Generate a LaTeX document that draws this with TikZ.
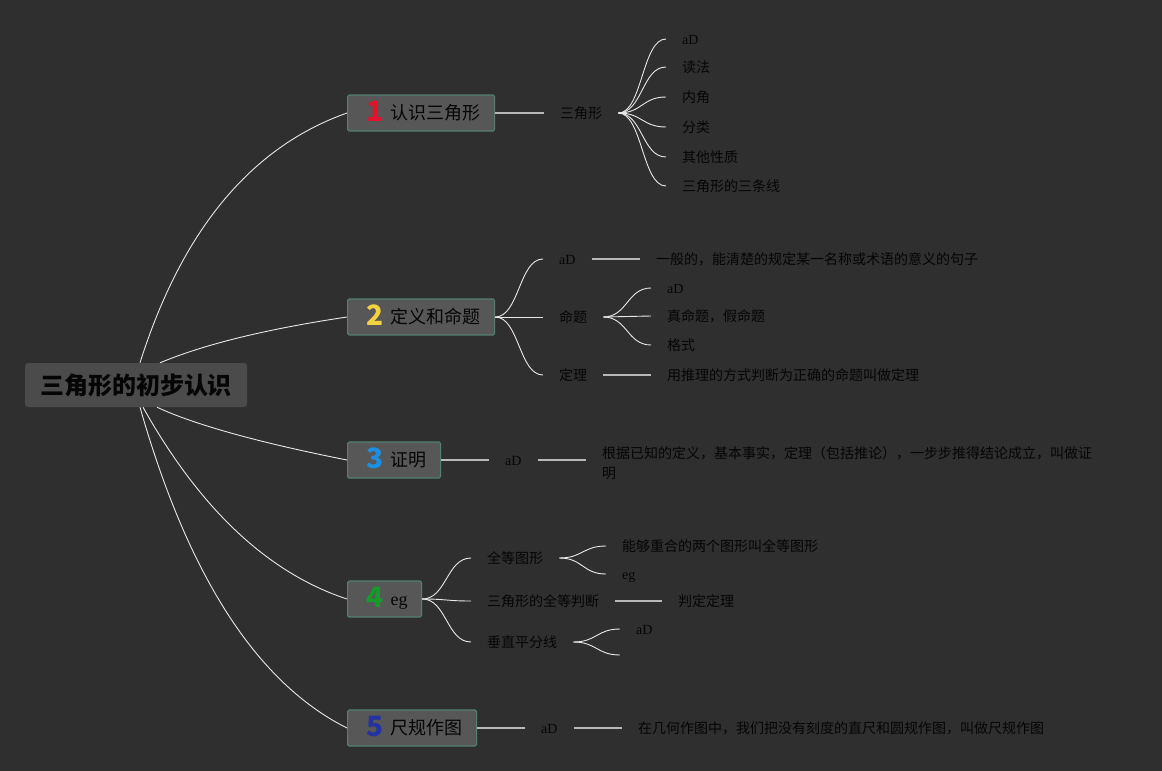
\documentclass[tikz,border=0pt]{standalone}
\usepackage{fontspec}
\setmainfont{Noto Sans CJK SC}
\newfontfamily\latinserif{Liberation Serif}
\usetikzlibrary{calc}
\definecolor{bgc}{HTML}{2F2F2F}
\definecolor{boxfill}{HTML}{575757}
\definecolor{boxline}{HTML}{55806F}
\definecolor{rootfill}{HTML}{4B4B4B}
\definecolor{inkc}{HTML}{050505}
\definecolor{curvec}{HTML}{E8E8E8}
\definecolor{barc}{HTML}{B8B8B8}
\definecolor{dA}{HTML}{E3132C}
\definecolor{dB}{HTML}{F4D23F}
\definecolor{dC}{HTML}{1E8FE0}
\definecolor{dD}{HTML}{169A2A}
\definecolor{dE}{HTML}{2433A0}
\newcommand\topicnum[2]{\hspace*{19pt}\makebox[17pt]{\raisebox{-2pt}{\fontsize{28}{28}\selectfont\bfseries\color{#1}#2}}\hspace*{7pt}}
\begin{document}
\begin{tikzpicture}[x=1pt,y=-1pt,
 rootbox/.style={fill=rootfill, rounded corners=3pt, minimum width=222pt, minimum height=44pt, inner sep=0pt, font=\fontsize{24}{28}\selectfont\bfseries, text=inkc},
 topic/.style={anchor=west, fill=boxfill, draw=boxline, line width=1.2pt, rounded corners=1.5pt, minimum height=36pt, inner xsep=0pt, inner ysep=0pt, text height=15.8pt, text depth=2.2pt, font=\fontsize{18}{22}\selectfont, text=inkc},
 leaf/.style={anchor=west, inner xsep=16pt, inner ysep=0pt, text height=12.3pt, text depth=1.7pt, font=\fontsize{14}{20}\selectfont, text=inkc},
 leafpar/.style={anchor=base west, inner xsep=16pt, inner ysep=0pt, font=\fontsize{14}{20}\selectfont, text=inkc, text width=490pt, align=left},
 curve/.style={draw=curvec, line width=0.9pt},
 bar/.style={draw=barc, line width=1.4pt},
 fan/.style={to path={.. controls ($(\tikztostart)!0.5!(\tikztotarget |- \tikztostart)$) and ($(\tikztotarget)!0.5!(\tikztostart |- \tikztotarget)$) .. (\tikztotarget)}},
]
\fill[bgc] (0,0) rectangle (1162,771);
\useasboundingbox (0,0) rectangle (1162,771);

% root and topics
\node[rootbox] (root) at (136,385) {三角形的初步认识};
\node[topic] (n1) at (347,113) {\topicnum{dA}{1}认识三角形\hspace*{14pt}};
\node[topic] (n2) at (347,317) {\topicnum{dB}{2}定义和命题\hspace*{14pt}};
\node[topic] (n3) at (347,460) {\topicnum{dC}{3}证明\hspace*{14pt}};
\node[topic] (n4) at (347,599) {\topicnum{dD}{4}{\latinserif eg}\hspace*{14pt}};
\node[topic] (n5) at (347,728) {\topicnum{dE}{5}尺规作图\hspace*{14pt}};

\draw[curve] ([xshift=4pt]root.north) .. controls (182,230) and (251,147) .. (n1.west);
\draw[curve] ([xshift=24pt]root.north) .. controls (205,344) and (267,329) .. (n2.west);
\draw[curve] ([xshift=21pt]root.south) .. controls (193,424) and (256,442) .. (n3.west);
\draw[curve] ([xshift=7pt]root.south) .. controls (200,509) and (268,573) .. (n4.west);
\draw[curve] ([xshift=4pt]root.south) .. controls (188,576) and (257,683) .. (n5.west);

% branch 1
\node[leaf] (s1) at (544,113) {三角形};
\node[leaf] (c11) at (666,39) {\latinserif aD};
\node[leaf] (c12) at (666,67) {读法};
\node[leaf] (c13) at (666,97) {内角};
\node[leaf] (c14) at (666,127) {分类};
\node[leaf] (c15) at (666,157) {其他性质};
\node[leaf] (c16) at (666,186) {三角形的三条线};
\draw[bar] (n1.east) -- (s1.west);
\foreach \c in {c11,c12,c13,c14,c15,c16} \draw[curve] (s1.east) to[fan] (\c.west);

% branch 2
\node[leaf] (a2) at (543,259) {\latinserif aD};
\node[leaf] (m2) at (543,317) {命题};
\node[leaf] (t2) at (543,375) {定理};
\node[leaf] (a2d) at (640,259) {一般的，能清楚的规定某一名称或术语的意义的句子};
\node[leaf] (m2a) at (651,288) {\latinserif aD};
\node[leaf] (m2b) at (651,316) {真命题，假命题};
\node[leaf] (m2c) at (651,345) {格式};
\node[leaf] (t2d) at (651,375) {用推理的方式判断为正确的命题叫做定理};
\foreach \c in {a2,m2,t2} \draw[curve] (n2.east) to[fan] (\c.west);
\foreach \c in {m2a,m2b,m2c} \draw[curve] (m2.east) to[fan] (\c.west);
\draw[bar] (a2.east) -- (a2d.west);
\draw[bar] (t2.east) -- (t2d.west);

% branch 3
\node[leaf] (a3) at (489,460) {\latinserif aD};
\node[leafpar] (d3) at (586,458) {根据已知的定义，基本事实，定理（包括推论），一步步推得结论成立，叫做证\\明};
\draw[bar] (n3.east) -- (a3.west);
\draw[bar] (a3.east) -- (a3.east -| d3.west);

% branch 4
\node[leaf] (g4) at (471,558) {全等图形};
\node[leaf] (p4) at (471,601) {三角形的全等判断};
\node[leaf] (v4) at (471,642) {垂直平分线};
\node[leaf] (g4a) at (606,546) {能够重合的两个图形叫全等图形};
\node[leaf] (g4b) at (606,574) {\latinserif eg};
\node[leaf] (p4d) at (662,601) {判定定理};
\node[leaf] (v4a) at (620,629) {\latinserif aD};
\coordinate (v4b) at (620,655);
\foreach \c in {g4,p4,v4} \draw[curve] (n4.east) to[fan] (\c.west);
\foreach \c in {g4a,g4b} \draw[curve] (g4.east) to[fan] (\c.west);
\draw[bar] (p4.east) -- (p4d.west);
\draw[curve] (v4.east) to[fan] (v4a.west);
\draw[curve] (v4.east) to[fan] (v4b);

% branch 5
\node[leaf] (a5) at (525,728) {\latinserif aD};
\node[leaf] (a5d) at (622,728) {在几何作图中，我们把没有刻度的直尺和圆规作图，叫做尺规作图};
\draw[bar] (n5.east) -- (a5.west);
\draw[bar] (a5.east) -- (a5d.west);
\end{tikzpicture}
\end{document}
